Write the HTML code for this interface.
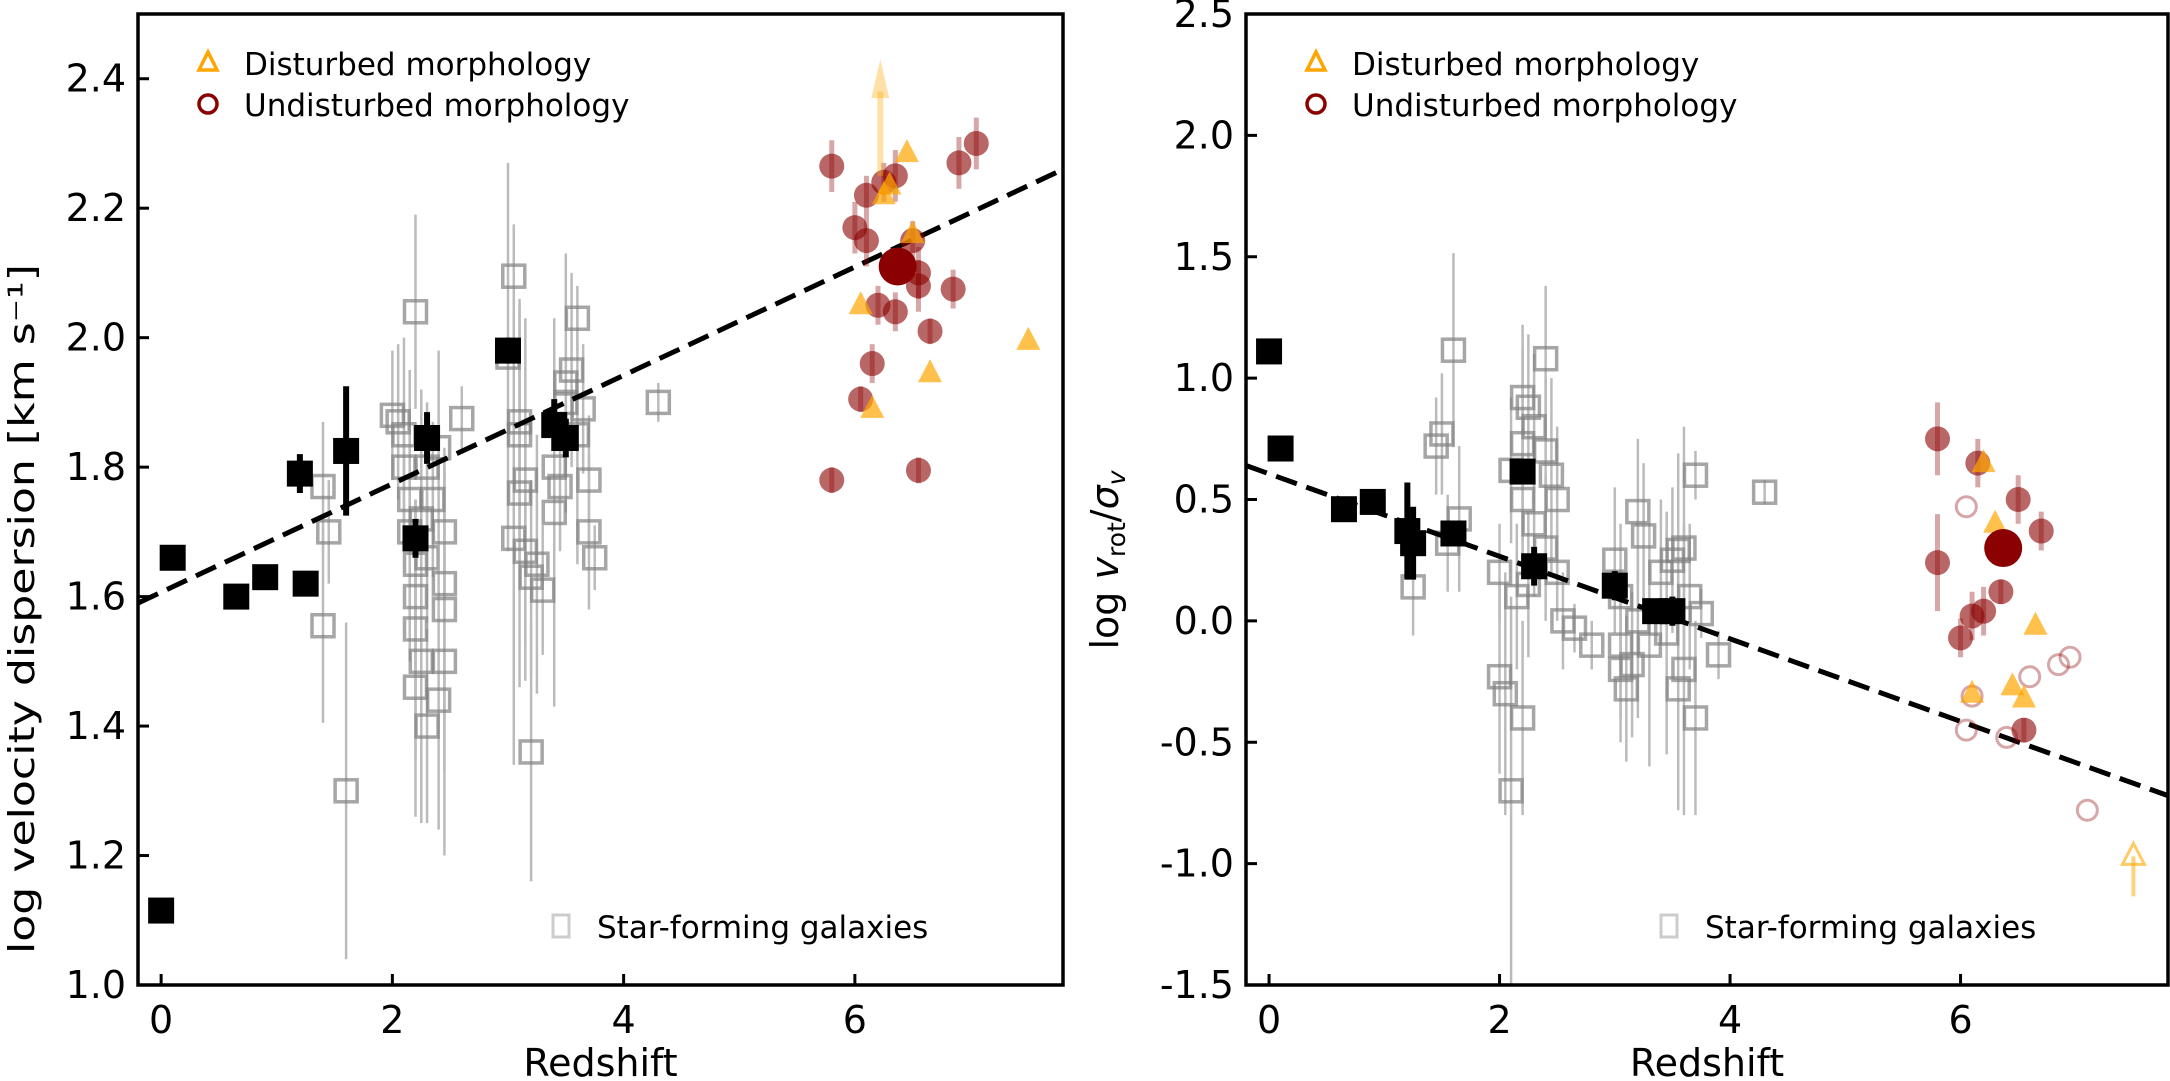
<!DOCTYPE html>
<html><head><meta charset="utf-8"><style>
html,body{margin:0;padding:0;background:#fff;}
svg{display:block;font-family:"DejaVu Sans","Liberation Sans",sans-serif;}
</style></head><body>
<svg id="fig" width="2170" height="1081" viewBox="0 0 2170 1081" xmlns="http://www.w3.org/2000/svg"></svg>
<script>
// ---------- Left panel data ----------
const L_blackZ   = [0, 0.1, 0.65, 0.9, 1.25, 1.2, 1.6, 2.2, 2.3, 3.0, 3.4, 3.5];
const L_blackV   = [1.115, 1.66, 1.60, 1.63, 1.62, 1.79, 1.825, 1.69, 1.845, 1.98, 1.865, 1.845];
const L_blackE   = [0, 0, 0, 0, 0, 0.03, 0.1, 0.03, 0.04, 0.02, 0.04, 0.03];
const L_grayZ = [1.4,1.45,1.4,1.6,2.0,2.05,2.1,2.1,2.15,2.15,2.2,2.2,2.2,2.25,2.2,2.3,2.2,2.4,2.45,2.45,2.45,2.45,2.4,2.35,2.3,2.6,2.25,2.3,3.05,3.0,3.1,3.15,3.1,3.05,3.15,3.2,3.3,3.2,3.1,3.5,3.55,3.6,3.5,3.65,3.4,3.45,3.7,3.7,3.75,3.4,3.6,4.3,3.25];
const L_grayV = [1.77,1.70,1.555,1.30,1.88,1.87,1.85,1.80,1.75,1.70,1.65,1.60,1.55,1.50,1.46,1.40,2.04,1.83,1.70,1.62,1.58,1.50,1.44,1.75,1.80,1.875,1.72,1.66,2.095,1.97,1.85,1.78,1.76,1.69,1.67,1.63,1.61,1.36,1.87,1.90,1.95,2.03,1.93,1.89,1.80,1.77,1.78,1.70,1.66,1.73,1.85,1.90,1.65];
const L_grayE = [0.1,0.08,0.15,0.26,0.1,0.12,0.15,0.1,0.2,0.2,0.1,0.15,0.2,0.25,0.2,0.15,0.15,0.15,0.1,0.2,0.25,0.3,0.2,0.12,0.1,0.05,0.2,0.1,0.08,0.3,0.2,0.25,0.3,0.35,0.2,0.15,0.1,0.2,0.1,0.1,0.15,0.05,0.2,0.1,0.15,0.1,0.1,0.12,0.05,0.3,0.2,0.03,0.2];
const L_redZ = [5.8,5.8,6.0,6.1,6.1,6.15,6.05,6.2,6.35,6.35,6.5,6.55,6.55,6.65,6.55,6.85,6.9,7.05,6.25];
const L_redV = [2.265,1.78,2.17,2.22,2.15,1.96,1.905,2.05,2.25,2.04,2.15,2.10,2.08,2.01,1.795,2.075,2.27,2.30,2.24];
const L_redE = [0.04,0.02,0.04,0.03,0.04,0.03,0.02,0.03,0.04,0.03,0.03,0.04,0.04,0.02,0.02,0.03,0.04,0.04,0.03];
const L_oraZ = [6.05,6.15,6.25,6.3,6.45,6.5,6.65,7.5];
const L_oraV = [2.05,1.89,2.22,2.235,2.285,2.16,1.945,1.995];
const L_bigZ = [6.37], L_bigV = [2.11];
const L_fit = [1.59, 2.26];
const L_yticks = [1.0,1.2,1.4,1.6,1.8,2.0,2.2,2.4];
const L_ylabels = ["1.0","1.2","1.4","1.6","1.8","2.0","2.2","2.4"];
// ---------- Right panel data ----------
const R_blackZ = [0,0.1,0.65,0.9,1.2,1.25,1.6,2.2,2.3,3.0,3.35,3.5];
const R_blackV = [1.11,0.71,0.46,0.49,0.37,0.32,0.36,0.615,0.225,0.145,0.04,0.04];
const R_blackE = [0,0,0,0,0.2,0.15,0.05,0.05,0.08,0.06,0.05,0.06];
const R_grayZ = [1.45,1.5,1.6,1.65,1.55,1.25,2.0,2.05,2.1,2.2,2.15,2.0,2.2,2.25,2.2,2.3,2.1,2.4,2.45,2.5,2.3,2.4,2.4,2.5,2.55,2.65,2.8,2.2,2.25,3.0,3.05,3.05,3.05,3.1,3.2,3.25,3.2,3.3,3.4,3.5,3.55,3.6,3.45,3.6,3.55,3.7,3.75,3.7,3.9,4.3,3.65,3.15];
const R_grayV = [0.72,0.77,1.115,0.42,0.32,0.14,-0.23,-0.30,-0.70,-0.40,0.10,0.20,0.92,0.88,0.73,0.80,0.62,0.70,0.60,0.50,0.40,0.30,1.08,0.20,0.00,-0.03,-0.10,0.50,0.15,0.25,0.10,-0.10,-0.20,-0.28,0.45,0.35,0.00,-0.10,0.20,0.25,0.29,0.30,-0.05,-0.20,-0.28,-0.40,0.03,0.60,-0.14,0.53,0.10,-0.18];
const R_grayE = [0.2,0.25,0.4,0.3,0.2,0.2,0.4,0.5,0.8,0.4,0.3,0.2,0.3,0.3,0.4,0.3,0.3,0.3,0.4,0.3,0.3,0.3,0.3,0.2,0.2,0.1,0.1,0.3,0.3,0.3,0.3,0.3,0.3,0.3,0.3,0.3,0.4,0.5,0.3,0.3,0.4,0.5,0.5,0.6,0.5,0.4,0.1,0.1,0.1,0.05,0.3,0.3];
const R_redZ = [5.8,5.8,6.0,6.1,6.2,6.35,6.5,6.7,6.55,6.15];
const R_redV = [0.75,0.24,-0.07,0.02,0.04,0.12,0.50,0.37,-0.45,0.65];
const R_redE = [0.15,0.2,0.08,0.1,0.1,0.05,0.1,0.08,0.05,0.1];
const R_openZ = [6.05,6.1,6.05,6.4,6.6,6.85,6.95,7.1];
const R_openV = [0.47,-0.31,-0.45,-0.48,-0.23,-0.18,-0.15,-0.78];
const R_oraZ = [6.2,6.3,6.1,6.45,6.55,6.65];
const R_oraV = [0.65,0.40,-0.30,-0.27,-0.32,-0.02];
const R_bigZ = [6.37], R_bigV = [0.30];
const R_fit = [0.64, -0.72];
const R_yticks = [-1.5,-1.0,-0.5,0.0,0.5,1.0,1.5,2.0,2.5];
const R_ylabels = ["-1.5","-1.0","-0.5","0.0","0.5","1.0","1.5","2.0","2.5"];
const xticks = [0,2,4,6];
const xlabels = ["0","2","4","6"];

const NS="http://www.w3.org/2000/svg";
const svg=document.getElementById('fig');
function mk(tag,attrs,parent){const e=document.createElementNS(NS,tag);for(const k in attrs)e.setAttribute(k,attrs[k]);(parent||svg).appendChild(e);return e;}

function panel(p){
  const g=mk('g',{});
  
  
  const X=z=>p.x0+(z-(-0.2))/8*(p.x1-p.x0);
  const Y=v=>p.y1-(v-p.ymin)/(p.ymax-p.ymin)*(p.y1-p.y0);
  p.gz.forEach((z,i)=>{
    const e=mk('line',{x1:X(z),x2:X(z),y1:Y(p.gv[i]-p.ge[i]),y2:Y(p.gv[i]+p.ge[i]),stroke:'#bbb','stroke-width':2.5},g);
    
    
  });
  p.gz.forEach((z,i)=>{
    const r=mk('rect',{x:X(z)-11,y:Y(p.gv[i])-11,width:22,height:22,fill:'none',stroke:'#808080','stroke-opacity':0.7,'stroke-width':3.5},g);
    
    
  });
  const f=mk('line',{x1:X(-0.2),y1:Y(p.fit[0]),x2:X(7.8),y2:Y(p.fit[1]),stroke:'#000','stroke-width':5,'stroke-dasharray':'22,10'},g);
  
  
  p.bz.forEach((z,i)=>{
    if(p.be[i]>0){const e=mk('line',{x1:X(z),x2:X(z),y1:Y(p.bv[i]-p.be[i]),y2:Y(p.bv[i]+p.be[i]),stroke:'#000','stroke-width':6},g);
      
      }
    const r=mk('rect',{x:X(z)-13,y:Y(p.bv[i])-13,width:26,height:26,fill:'#000'},g);
    
    
  });
  p.rz.forEach((z,i)=>{
    const e=mk('line',{x1:X(z),x2:X(z),y1:Y(p.rv[i]-p.re[i]),y2:Y(p.rv[i]+p.re[i]),stroke:'#8b0000','stroke-opacity':0.35,'stroke-width':5},g);
    
    
    const c=mk('circle',{cx:X(z),cy:Y(p.rv[i]),r:12.5,fill:'#8b0000','fill-opacity':0.6},g);
    
    
  });
  (p.oz||[]).forEach((z,i)=>{
    const c=mk('circle',{cx:X(z),cy:Y(p.ov[i]),r:10,fill:'none',stroke:'#8b0000','stroke-opacity':0.35,'stroke-width':3},g);
    
    
  });
  p.tz.forEach((z,i)=>{
    const x=X(z),y=Y(p.tv[i]);
    const t=mk('polygon',{points:`${x},${y-14} ${x-12},${y+9} ${x+12},${y+9}`,fill:'#ffa500','fill-opacity':0.7},g);
    
    
  });
  p.bigz.forEach((z,i)=>{
    const c=mk('circle',{cx:X(z),cy:Y(p.bigv[i]),r:19,fill:'#8b0000'},g);
    
    
  });
  const fr=mk('rect',{x:p.x0,y:p.y0,width:p.x1-p.x0,height:p.y1-p.y0,fill:'none',stroke:'#000','stroke-width':3.5},g);
  
  
  xticks.forEach((t,i)=>{
    mk('line',{x1:X(t),x2:X(t),y1:p.y1,y2:p.y1-11,stroke:'#000','stroke-width':3},g);
    const tx=mk('text',{x:X(t),y:p.y1+48,'font-size':38,'text-anchor':'middle'},g);
    tx.textContent=xlabels[i];
    
    
  });
  p.yt.forEach((t,i)=>{
    mk('line',{x1:p.x0,x2:p.x0+11,y1:Y(t),y2:Y(t),stroke:'#000','stroke-width':3},g);
    const tx=mk('text',{x:p.x0-12,y:Y(t)+13,'font-size':38,'text-anchor':'end'},g);
    tx.textContent=p.yl[i];
    
    
  });
  const xl=mk('text',{x:(p.x0+p.x1)/2,y:1076,'font-size':38,'text-anchor':'middle'},g);
  xl.textContent='Redshift';
  
  
  const lx=p.x0+70;
  const lt=mk('polygon',{points:`${lx},${52} ${lx-9},${70} ${lx+9},${70}`,fill:'none',stroke:'#ffa500','stroke-width':3.5},g);
  
  
  const t1=mk('text',{x:lx+36,y:75,'font-size':31},g);t1.textContent='Disturbed morphology';
  
  
  const lc=mk('circle',{cx:lx,cy:104,r:9,fill:'none',stroke:'#8b0000','stroke-width':3.5},g);
  
  
  const t2=mk('text',{x:lx+36,y:116,'font-size':31},g);t2.textContent='Undisturbed morphology';
  
  
  const sx=p.x0+423;
  const ls=mk('rect',{x:sx-8,y:915,width:16,height:22,fill:'none',stroke:'#ccc','stroke-width':3},g);
  
  
  const t3=mk('text',{x:sx+36,y:938,'font-size':31},g);t3.textContent='Star-forming galaxies';
  
  
  return {X,Y,g};
}
const A=panel({name:'dispersion-panel',x0:138,x1:1063,y0:14,y1:985,ymin:1.0,ymax:2.5,
  gz:L_grayZ,gv:L_grayV,ge:L_grayE,bz:L_blackZ,bv:L_blackV,be:L_blackE,rz:L_redZ,rv:L_redV,re:L_redE,
  tz:L_oraZ,tv:L_oraV,bigz:L_bigZ,bigv:L_bigV,fit:L_fit,yt:L_yticks,yl:L_ylabels});
const a1=mk('line',{x1:A.X(6.22),x2:A.X(6.22),y1:A.Y(2.25),y2:A.Y(2.38),stroke:'#ffa500','stroke-opacity':0.35,'stroke-width':6});


const a1h=mk('polygon',{points:`${A.X(6.22)},${A.Y(2.43)} ${A.X(6.22)-9},${A.Y(2.37)} ${A.X(6.22)+9},${A.Y(2.37)}`,fill:'#ffa500','fill-opacity':0.35});


const yl1=mk('text',{transform:'translate(34,609) rotate(-90)','font-size':36,'text-anchor':'middle',textLength:690,lengthAdjust:'spacingAndGlyphs'});
yl1.textContent='log velocity dispersion [km s⁻¹]';



const B=panel({name:'vrot-sigma-panel',x0:1246,x1:2168,y0:14,y1:985,ymin:-1.5,ymax:2.5,
  gz:R_grayZ,gv:R_grayV,ge:R_grayE,bz:R_blackZ,bv:R_blackV,be:R_blackE,rz:R_redZ,rv:R_redV,re:R_redE,
  oz:R_openZ,ov:R_openV,tz:R_oraZ,tv:R_oraV,bigz:R_bigZ,bigv:R_bigV,fit:R_fit,yt:R_yticks,yl:R_ylabels});
const ox=B.X(7.5),oy=B.Y(-0.97);
const ot=mk('polygon',{points:`${ox},${oy-13} ${ox-11},${oy+8} ${ox+11},${oy+8}`,fill:'none',stroke:'#ffa500','stroke-opacity':0.6,'stroke-width':3});


const oa=mk('line',{x1:ox,x2:ox,y1:oy,y2:oy+40,stroke:'#ffa500','stroke-opacity':0.5,'stroke-width':4});


const yl2=mk('text',{transform:'translate(1118,560) rotate(-90)','font-size':38,'text-anchor':'middle'});
yl2.innerHTML='log <tspan font-style="italic">v</tspan><tspan font-size="25" dy="7">rot</tspan><tspan dy="-7">/</tspan><tspan font-style="italic">σ</tspan><tspan font-size="25" font-style="italic" dy="7">v</tspan>';


</script>
</body></html>
